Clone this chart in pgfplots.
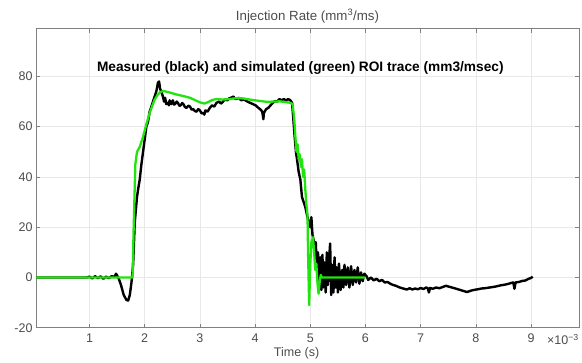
\documentclass[border=0pt]{standalone}
\usepackage{pgfplots}
\pgfplotsset{compat=1.18}
\usepackage{fontspec}
\setmainfont{Liberation Sans}
\definecolor{mgreen}{rgb}{0.12,0.9,0.05}
\definecolor{axgray}{gray}{0.5}
\definecolor{labgray}{gray}{0.3}
\begin{document}
\begin{tikzpicture}
\path (-36bp,-32.3bp) rectangle (546bp,327.7bp);
\begin{axis}[
 at={(0,0)}, anchor=south west,
 width=543bp, height=299bp, scale only axis,
 xmin=0.03, xmax=9.87, ymin=-20, ymax=99,
 xtick={1,2,...,9}, ytick={-20,0,20,40,60,80},
 tick align=inside, major tick length=4bp,
 grid=major, grid style={gray!18, line width=0.5bp},
 axis line style={axgray, line width=0.8bp},
 tick style={axgray, line width=0.6bp},
 ticklabel style={font=\fontsize{12.5bp}{14bp}\selectfont, text=labgray},
 xticklabel style={yshift=-3bp},
 /pgf/number format/assume math mode=true,
 title={Injection Rate (mm\textsuperscript{3}/ms)},
 title style={at={(axis description cs:0.5,1)}, anchor=south, yshift=-4bp, font=\fontsize{13.3bp}{15bp}\selectfont, text=labgray},
 xlabel={Time (s)},
 xlabel style={at={(axis description cs:0.48,0)}, anchor=north, yshift=-16bp, font=\fontsize{12.5bp}{14bp}\selectfont, text=labgray},
]
\addplot[black, line width=2.4bp, line join=round] coordinates {
(0.03,0) (0.5,0) (0.95,0) (1.0,0.3) (1.05,-0.4) (1.1,0.5) (1.15,-0.3) (1.2,0.4) (1.25,-0.5) (1.3,0.3) (1.35,-0.3) (1.4,0.5) (1.45,0.2) (1.48,1.5) (1.5,0.8) (1.53,-0.5) (1.57,-3) (1.62,-7) (1.67,-9) (1.70,-9.2) (1.73,-7) (1.76,-2) (1.79,5) (1.82,22) (1.84,27) (1.86,32) (1.88,35) (1.91,39) (1.94,45) (1.97,50) (2.0,55) (2.03,60) (2.06,62) (2.09,66) (2.12,68) (2.15,70) (2.18,72) (2.21,74) (2.24,77.5) (2.26,78) (2.28,75) (2.30,74) (2.33,72) (2.35,70) (2.37,71.5) (2.39,69) (2.42,69.5) (2.44,68.5) (2.45,70.5) (2.48,69) (2.51,70.5) (2.53,68.8) (2.55,69) (2.58,70) (2.60,69.5) (2.63,68.3) (2.65,68.5) (2.68,69.4) (2.70,69) (2.73,67.8) (2.76,67.5) (2.79,68.4) (2.82,68) (2.85,66.8) (2.88,67) (2.91,66.2) (2.94,66) (2.97,67) (3.0,66.5) (3.03,65.3) (3.06,65.5) (3.08,64.8) (3.1,66.5) (3.14,66) (3.18,67.5) (3.22,68.5) (3.26,68) (3.30,69.5) (3.35,70) (3.38,69.2) (3.40,69.5) (3.45,70.8) (3.50,70.5) (3.53,71.3) (3.56,71.5) (3.61,72) (3.63,71.2) (3.66,71) (3.70,71.5) (3.75,70.5) (3.80,70.8) (3.86,70) (3.91,69.5) (3.96,69) (4.01,68.5) (4.06,67.5) (4.10,66.8) (4.13,66) (4.15,63) (4.16,65.5) (4.20,67) (4.24,67.5) (4.28,68.5) (4.32,69.5) (4.36,70.2) (4.40,70) (4.44,71) (4.48,70.5) (4.52,71) (4.56,70.5) (4.60,71) (4.64,70.5) (4.67,69.5) (4.69,64) (4.71,58) (4.74,50) (4.76,47) (4.79,42) (4.82,39) (4.85,32) (4.88,30) (4.91,28) (4.94,25) (4.97,22) (5.00,20) (5.02,24) (5.04,17) (5.06,15) (5.08,12) (5.10,14) (5.12,3) (5.14,10) (5.16,-2) (5.18,8) (5.20,-5) (5.22,9) (5.24,-4) (5.26,6) (5.28,-6) (5.30,10) (5.32,-3) (5.34,7) (5.36,13.5) (5.38,-7) (5.40,5) (5.42,-6) (5.44,8) (5.46,-4) (5.48,4) (5.50,-6) (5.52,5.5) (5.55,-5) (5.58,3) (5.60,-4) (5.62,5) (5.65,-3) (5.68,4) (5.71,-4) (5.74,4.5) (5.77,-3) (5.80,3) (5.83,-2) (5.86,4) (5.89,-2.5) (5.92,2) (5.95,-1.5) (5.98,1.5) (6.02,0.5) (6.05,-1) (6.10,0) (6.15,-1.2) (6.20,-0.5) (6.25,-1.5) (6.30,-1) (6.35,-2) (6.40,-1.8) (6.45,-2.5) (6.50,-3) (6.55,-3.3) (6.60,-3.8) (6.65,-4.2) (6.70,-4.5) (6.75,-4.8) (6.80,-4.3) (6.85,-4.8) (6.90,-4.4) (6.95,-4.7) (7.00,-4.2) (7.05,-4.6) (7.10,-4.0) (7.13,-4.3) (7.15,-6) (7.17,-4.2) (7.22,-4.5) (7.28,-4.0) (7.34,-4.3) (7.40,-3.8) (7.46,-3.3) (7.50,-3.6) (7.55,-3.9) (7.60,-4.2) (7.66,-4.6) (7.72,-5.0) (7.78,-5.4) (7.84,-5.8) (7.88,-5.5) (7.92,-5.2) (7.98,-4.9) (8.04,-4.7) (8.10,-4.4) (8.16,-4.3) (8.22,-4.1) (8.28,-3.9) (8.34,-3.7) (8.40,-3.4) (8.46,-3.1) (8.52,-2.9) (8.58,-2.6) (8.64,-2.2) (8.68,-2.0) (8.70,-4.5) (8.72,-2.0) (8.78,-1.8) (8.84,-1.4) (8.90,-1.2) (8.95,-0.6) (9.00,-0.2) (9.03,0.3)
};
\addplot[mgreen, line width=2.3bp, line join=round] coordinates {
(0.03,0) (1.78,0) (1.80,20) (1.83,45) (1.86,50) (1.91,52) (1.97,56) (2.03,61) (2.09,65.5) (2.14,68.5) (2.18,70.8) (2.23,72.5) (2.28,73.8) (2.34,74.2) (2.42,73.8) (2.50,73.3) (2.58,72.8) (2.70,72.2) (2.82,71.5) (2.92,70.5) (3.0,69.7) (3.08,69.2) (3.15,69.8) (3.22,70.6) (3.30,71) (3.40,70.8) (3.50,70.9) (3.60,71.2) (3.70,71.4) (3.80,71.2) (3.90,70.8) (4.00,70.5) (4.10,70.2) (4.21,69.9) (4.33,70) (4.45,70.1) (4.55,69.8) (4.64,69.5) (4.68,69) (4.71,63) (4.73,56) (4.75,50) (4.77,53) (4.79,47) (4.81,49) (4.83,44) (4.85,47) (4.87,40) (4.89,43) (4.91,35) (4.93,29) (4.95,25) (4.96,10) (4.98,-11) (5.00,5) (5.02,14) (5.05,16) (5.07,10) (5.09,3) (5.11,5.5) (5.13,-2) (5.15,-6.5) (5.17,-2) (5.19,1) (5.21,0) (6.0,0)
};
\node[font=\bfseries\fontsize{13.7bp}{15bp}\selectfont, text=black] at (axis cs:4.82,83.5) {Measured (black) and simulated (green) ROI trace (mm3/msec)};
\end{axis}
\node[anchor=east, font=\fontsize{12.5bp}{14bp}\selectfont, text=labgray, inner sep=0pt] at (543bp,-12bp) {×10\textsuperscript{−3}};
\end{tikzpicture}
\end{document}
